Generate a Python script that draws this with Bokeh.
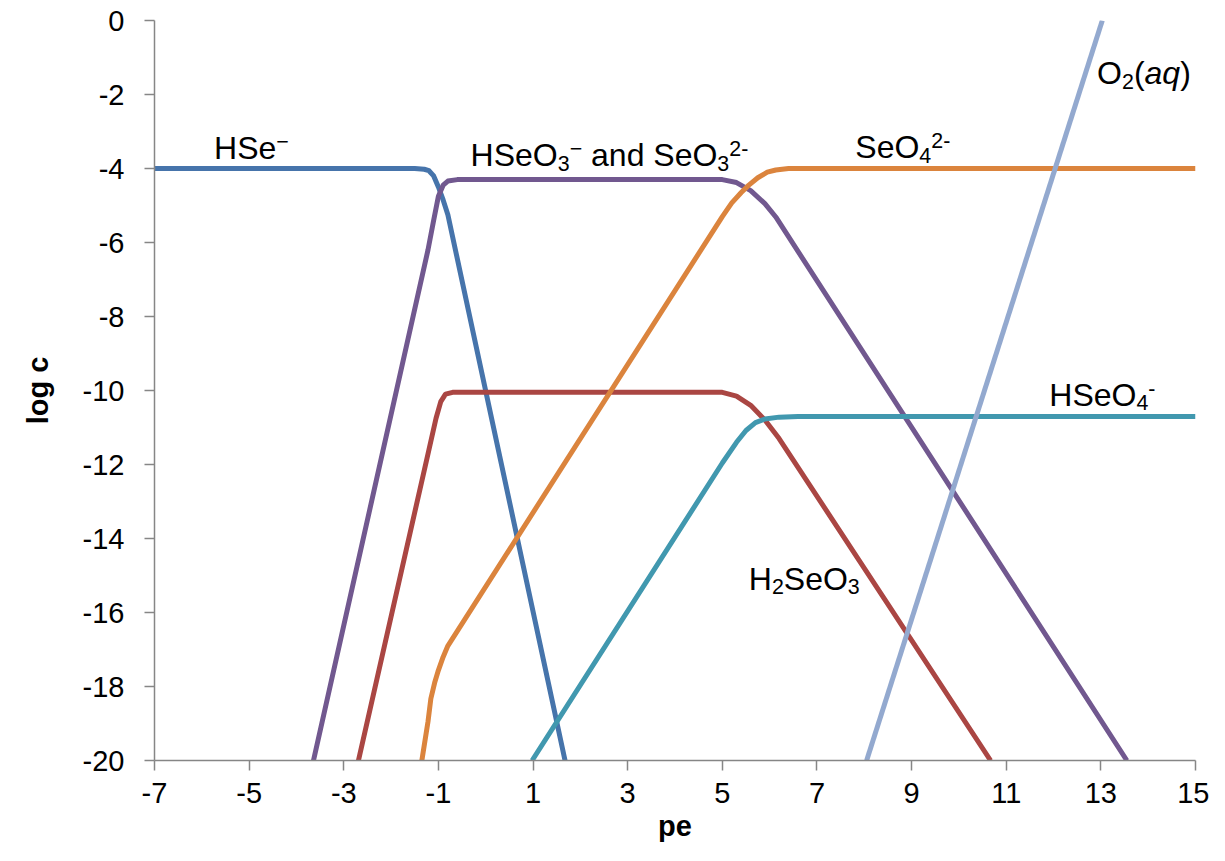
from bokeh.plotting import figure
from bokeh.models import Range1d, FixedTicker, ColumnDataSource
from bokeh.embed import file_html
from bokeh.resources import INLINE

# ---- data (pe, log c) ----
hse_x = [-7, -1.5, -1.3, -1.2, -1.1, -1.0, -0.9, -0.8, 1.676]
hse_y = [-4.0, -4.0, -4.02, -4.06, -4.2, -4.5, -4.85, -5.25, -20.0]

h2seo3_x = [-2.69, -1.2, -1.05, -0.95, -0.85, -0.7, 5.0, 5.3, 5.6, 5.9, 6.2, 10.67]
h2seo3_y = [-20.0, -11.6, -10.75, -10.3, -10.1, -10.05, -10.05, -10.15, -10.4, -10.8, -11.3, -20.0]

hseo3_x = [-3.64, -1.22, -1.1, -1.0, -0.9, -0.8, -0.6, 5.0, 5.3, 5.6, 5.9, 6.13, 13.55]
hseo3_y = [-20.0, -6.2, -5.4, -4.75, -4.45, -4.34, -4.3, -4.3, -4.38, -4.6, -4.95, -5.31, -20.0]

hseo4_x = [0.98, 5.0, 5.3, 5.5, 5.7, 5.9, 6.2, 6.6, 15]
hseo4_y = [-20.0, -11.96, -11.4, -11.08, -10.87, -10.77, -10.72, -10.7, -10.7]

seo4_x = [-1.35, -1.22, -1.16, -1.08, -1.01, -0.9, -0.8, 5.0, 5.2, 5.4, 5.56, 5.75, 5.95, 6.13, 6.4, 15]
seo4_y = [-20.0, -18.95, -18.33, -17.9, -17.6, -17.2, -16.9, -5.3, -4.93, -4.65, -4.45, -4.25, -4.1, -4.04, -4.0, -4.0]

o2_x = [8.05, 13.03]
o2_y = [-20.0, 0.0]

x_ticks = [-7, -5, -3, -1, 1, 3, 5, 7, 9, 11, 13, 15]
y_ticks = [0, -2, -4, -6, -8, -10, -12, -14, -16, -18, -20]

# labels: anchor (pe, log c) and text segments (text, kind)
label_x = [-5.74, -0.32, 7.81, 12.92, 11.91, 5.56]
label_y = [-3.72, -3.91, -3.69, -1.70, -10.38, -15.36]
label_segments = [
    [("HSe", "n"), ("\u2212", "sup")],
    [("HSeO", "n"), ("3", "sub"), ("\u2212", "sup"), ("\u00a0and\u00a0SeO", "n"), ("3", "sub"), ("2-", "sup")],
    [("SeO", "n"), ("4", "sub"), ("2-", "sup")],
    [("O", "n"), ("2", "sub"), ("(", "n"), ("aq", "it"), (")", "n")],
    [("HSeO", "n"), ("4", "sub"), ("-", "sup")],
    [("H", "n"), ("2", "sub"), ("SeO", "n"), ("3", "sub")],
]

# ---- styling ----
COLORS = {
    "hse": "#4674AB", "h2seo3": "#AA4643", "hseo3": "#71588F",
    "hseo4": "#4198AF", "seo4": "#DB843D", "o2": "#93A9CF",
}
FONT = "Liberation Sans"
LW = 5

p = figure(width=1209, height=845, output_backend="svg", toolbar_location=None,
           x_range=Range1d(-7, 15), y_range=Range1d(-20, 0),
           min_border_left=154, min_border_right=14, min_border_top=20,
           min_border_bottom=85)
p.outline_line_color = None
p.xgrid.visible = False
p.ygrid.visible = False
p.background_fill_color = "white"

for xs, ys, key in [(hse_x, hse_y, "hse"), (h2seo3_x, h2seo3_y, "h2seo3"),
                    (hseo3_x, hseo3_y, "hseo3"), (hseo4_x, hseo4_y, "hseo4"),
                    (seo4_x, seo4_y, "seo4"), (o2_x, o2_y, "o2")]:
    p.line(xs, ys, line_color=COLORS[key], line_width=LW, line_join="round")

for ax, ticks in [(p.xaxis[0], x_ticks), (p.yaxis[0], y_ticks)]:
    ax.ticker = FixedTicker(ticks=ticks)
    ax.major_label_overrides = {t: str(t) for t in ticks}
    ax.minor_tick_line_color = None
    ax.major_tick_in = 0
    ax.major_tick_out = 10
    ax.axis_line_color = "#868686"
    ax.axis_line_width = 1.5
    ax.major_tick_line_color = "#868686"
    ax.major_tick_line_width = 1.5
    ax.major_label_text_font = FONT
    ax.major_label_text_font_size = "29px"
    ax.major_label_text_color = "black"
    ax.axis_label_text_font = FONT
    ax.axis_label_text_font_size = "29px"
    ax.axis_label_text_font_style = "bold"
    ax.axis_label_text_color = "black"

p.xaxis.axis_label = "pe"
p.yaxis.axis_label = "log c"
p.xaxis.major_label_standoff = 12
p.xaxis.axis_label_standoff = 4
p.yaxis.major_label_standoff = 20
p.yaxis.axis_label_standoff = 26

# ---- composite labels with sub/superscripts ----
WID = {'H': 722, 'S': 667, 'e': 556, 'O': 778, 'a': 556, 'n': 556, 'd': 556, ' ': 278,
       '\u00a0': 278, '(': 333, ')': 333, 'q': 556, '2': 556, '3': 556, '4': 556,
       '\u2212': 584, '-': 333}
F = 32.0
SMALL = 0.67
BASE_SHIFT = -10.0
rows = dict(x=[], y=[], text=[], size=[], style=[], xo=[], yo=[])
for lx, ly, segs in zip(label_x, label_y, label_segments):
    off = 0.0
    for txt, kind in segs:
        fs = F * SMALL if kind in ("sub", "sup") else F
        yo = BASE_SHIFT
        if kind == "sub":
            yo += 0.25 * F
        elif kind == "sup":
            yo += -0.2 * F
        rows["x"].append(lx)
        rows["y"].append(ly)
        rows["text"].append(txt)
        rows["size"].append("%.1fpx" % fs)
        rows["style"].append("italic" if kind == "it" else "normal")
        rows["xo"].append(off)
        rows["yo"].append(yo)
        off += sum(WID.get(c, 556) for c in txt) / 1000.0 * fs

src = ColumnDataSource(rows)
p.text(x="x", y="y", text="text", source=src, text_font_size="size",
       text_font_style="style", x_offset="xo", y_offset="yo",
       text_align="left", text_baseline="alphabetic", text_color="black",
       text_font={"value": FONT})

open("out.html", "w").write(file_html(p, INLINE))
